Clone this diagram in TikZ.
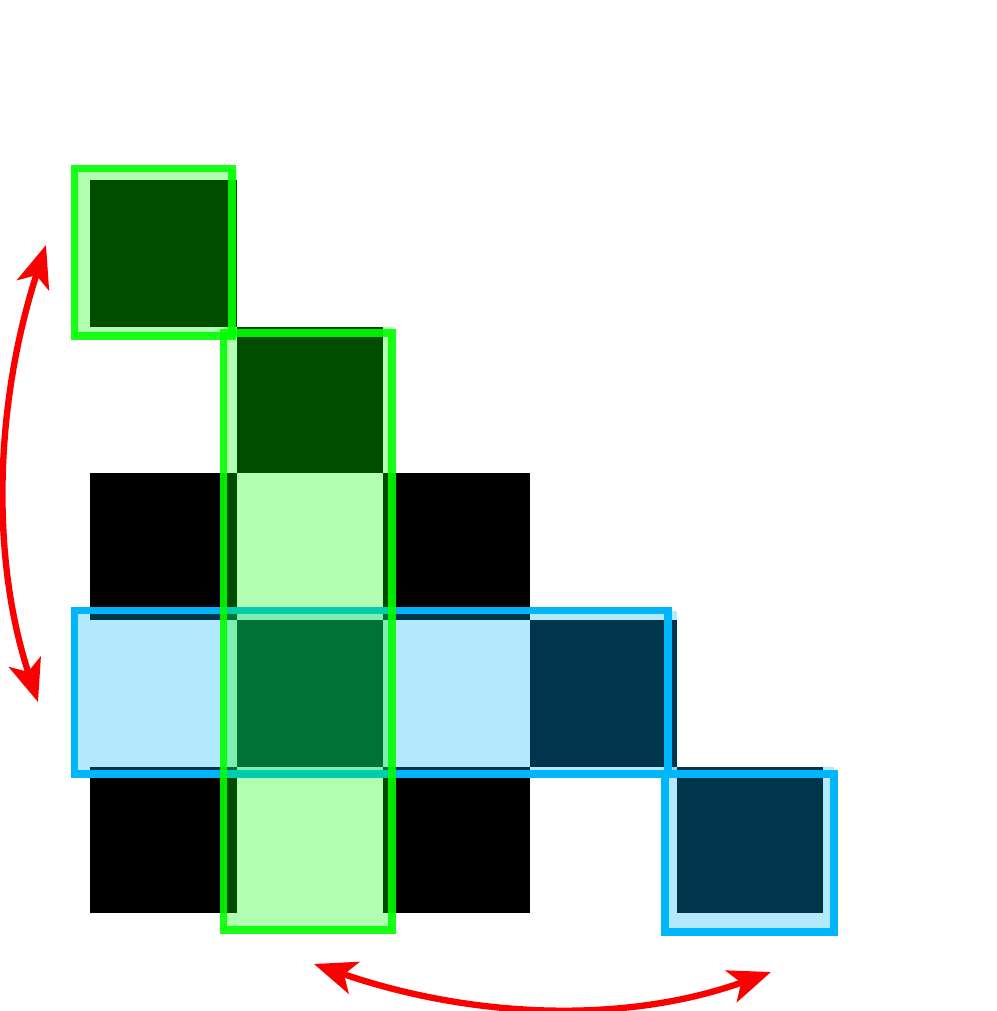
\documentclass[tikz,border=0pt]{standalone}
\usetikzlibrary{arrows.meta}
\definecolor{gline}{RGB}{0,255,0}
\definecolor{bline}{RGB}{0,182,250}
\definecolor{arrred}{RGB}{250,0,0}
\begin{document}
\begin{tikzpicture}[x=0.01cm,y=-0.01cm,
  cell/.style={fill=black},
  gfill/.style={fill=gline, fill opacity=0.3},
  gstroke/.style={draw=gline, line width=2pt, draw opacity=0.9},
  bfill/.style={fill=bline, fill opacity=0.3},
  bstroke/.style={draw=bline, line width=2pt},
  swaparrow/.style={draw=arrred, line width=1.8pt,
    {Stealth[length=12pt,width=9.5pt,inset=3pt]}-{Stealth[length=12pt,width=9.5pt,inset=3pt]}}]
\useasboundingbox (0,0) rectangle (997,1011);
% black cells
\foreach \c/\r in {0/0,1/1,0/2,2/2,1/3,3/3,0/4,2/4,4/4}
  \fill[cell] ({90+146.667*\c},{180+146.667*\r}) rectangle ++(146.667,146.667);
% blue highlights
\fill[bfill] (74.5,610.5) rectangle (676.7,774);
\draw[bstroke] (74.5,610.5) rectangle (668,774);
\fill[bfill] (665,766.7) rectangle (834,932);
\draw[bstroke] (665,774) rectangle (834,932);
% green highlights
\fill[gfill] (74.5,168.5) rectangle (236.7,336);
\draw[gstroke] (74.5,168.5) rectangle (232,336);
\fill[gfill] (223.5,326.7) rectangle (392,930);
\draw[gstroke] (223.5,333) rectangle (392,930);
% arrows
\coordinate (lt) at (46,245);
\coordinate (lb) at (38,702);
\coordinate (bl) at (314,964);
\coordinate (br) at (771,972);
\draw[swaparrow] (lt) .. controls (-6,406) and (-9,559) .. (lb);
\draw[swaparrow] (bl) .. controls (477,1020) and (629,1023) .. (br);
\end{tikzpicture}
\end{document}
